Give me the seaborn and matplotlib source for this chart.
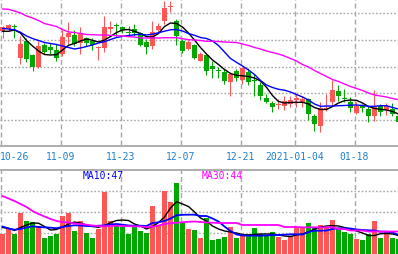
import numpy as np
import pandas as pd
import matplotlib
matplotlib.use("Agg")
import matplotlib.pyplot as plt
import seaborn as sns

# ---------------- data ----------------
dates = ["10-26", "11-09", "11-23", "12-07", "12-21", "2021-01-04", "01-18"]
date_idx = [0, 10, 20, 30, 40, 49, 59]

open_ = [16.77, 17.00, 17.30, 14.07, 15.83, 14.43, 13.17, 15.43, 15.23, 14.93, 14.50, 16.23, 16.40, 15.60, 16.07, 15.83, 15.13,
         15.10, 17.00, 17.37, 17.23, 16.70, 17.00, 16.57, 15.67, 15.33, 16.90, 17.83, 19.23, 17.77, 15.83, 15.00, 15.43, 13.83,
         14.43, 13.33, 12.85, 12.73, 11.73, 12.83, 11.90, 12.73, 11.87, 11.40, 10.10, 9.60, 9.37, 9.33, 9.50, 9.90,
         9.70, 10.00, 8.33, 7.33, 8.97, 9.73, 10.83, 10.03, 9.67, 8.60, 9.33, 9.00, 8.33, 9.33, 8.93, 9.00, 8.27]
close = [17.17, 17.43, 17.20, 15.50, 14.00, 13.23, 15.33, 14.73, 14.90, 14.10, 16.23, 16.57, 15.50, 16.57, 15.60, 15.43, 15.20,
         17.23, 17.23, 17.30, 16.90, 16.63, 16.57, 15.43, 15.23, 16.73, 17.33, 19.10, 19.30, 16.27, 14.83, 15.67, 14.10, 14.50,
         12.83, 13.00, 12.80, 11.83, 12.50, 12.10, 13.07, 11.73, 11.80, 10.33, 9.73, 9.23, 9.43, 9.83, 9.90, 10.13,
         10.00, 8.50, 7.50, 9.07, 9.03, 10.93, 10.33, 9.97, 9.07, 9.33, 9.07, 8.27, 9.33, 8.73, 9.27, 8.50, 7.73]
high = [17.33, 17.50, 17.47, 16.27, 16.07, 14.50, 15.77, 15.57, 15.57, 15.50, 16.93, 17.67, 16.93, 17.23, 16.23, 16.07, 15.33,
        18.33, 17.77, 17.60, 17.33, 17.27, 17.50, 16.73, 16.00, 17.77, 17.60, 19.83, 19.83, 18.00, 16.00, 15.93, 15.50, 14.70,
        14.50, 13.83, 13.17, 13.00, 12.67, 13.00, 13.17, 13.07, 12.50, 11.67, 10.50, 9.83, 10.00, 10.27, 10.33, 10.50,
        10.30, 10.10, 8.50, 9.67, 10.50, 11.93, 11.40, 11.00, 10.17, 9.67, 9.50, 9.27, 10.93, 9.50, 9.60, 9.60, 8.50]
low = [16.10, 16.80, 16.10, 13.50, 13.67, 12.83, 13.07, 14.50, 14.50, 13.77, 14.33, 15.50, 15.33, 14.50, 15.33, 14.93, 13.93,
       14.67, 16.57, 16.33, 16.57, 16.27, 16.33, 15.33, 14.50, 15.00, 16.57, 17.50, 18.73, 15.43, 14.60, 14.93, 14.00, 13.80,
       12.40, 12.10, 12.10, 11.50, 10.33, 11.83, 11.50, 11.40, 10.33, 9.93, 9.57, 8.67, 9.00, 8.90, 9.17, 9.23,
       9.20, 7.93, 6.83, 6.73, 8.83, 9.27, 9.83, 9.67, 8.73, 8.50, 8.67, 7.73, 7.83, 8.33, 8.40, 8.27, 7.60]

ma5 = [16.77, 16.77, 16.90, 16.60, 15.85, 15.30, 14.80, 14.45, 14.40, 14.43, 14.90, 15.37, 15.55, 15.80, 16.00, 15.87, 15.70,
       15.90, 16.25, 16.65, 16.90, 16.95, 16.77, 16.55, 16.23, 16.20, 16.55, 17.25, 17.60, 17.55, 17.20, 16.60, 15.90, 15.15,
       14.50, 13.90, 13.45, 12.95, 12.55, 12.37, 12.32, 12.25, 12.10, 11.80, 11.17, 10.35, 9.75, 9.60, 9.65, 9.67,
       9.67, 9.50, 9.15, 8.95, 8.95, 9.25, 9.60, 9.83, 9.90, 9.87, 9.60, 9.25, 9.05, 8.97, 8.90, 8.75, 8.50]
ma10 = [17.05, 17.00, 16.93, 16.67, 16.30, 16.05, 15.85, 15.65, 15.55, 15.45, 15.30, 15.15, 15.00, 15.10, 15.25, 15.40, 15.60,
        15.73, 15.95, 16.15, 16.27, 16.35, 16.42, 16.48, 16.40, 16.48, 16.63, 16.78, 16.92, 16.95, 16.80, 16.55, 16.37, 16.15,
        16.05, 15.80, 15.35, 14.70, 14.05, 13.67, 13.30, 12.90, 12.45, 11.85, 11.40, 11.15, 10.97, 10.88, 10.70, 10.45,
        10.20, 9.90, 9.50, 9.27, 9.30, 9.30, 9.33, 9.35, 9.38, 9.40, 9.35, 9.27, 9.27, 9.33, 9.33, 9.15, 9.00]
ma30 = [19.00, 18.97, 18.80, 18.60, 18.30, 18.10, 17.85, 17.55, 17.40, 17.25, 16.95, 16.70, 16.65, 16.55, 16.45, 16.43, 16.40,
        16.40, 16.37, 16.33, 16.30, 16.23, 16.20, 16.10, 16.10, 16.10, 16.10, 16.13, 16.13, 16.13, 16.03, 15.93, 15.90, 15.85,
        15.77, 15.77, 15.75, 15.70, 15.67, 15.65, 15.50, 15.35, 15.15, 15.00, 14.80, 14.65, 14.50, 14.30, 14.05, 13.80,
        13.45, 13.20, 12.85, 12.55, 12.25, 11.95, 11.75, 11.50, 11.25, 11.05, 10.85, 10.60, 10.40, 10.30, 10.20, 10.05, 9.93]

volume = [20, 25, 20, 41, 33, 32, 28, 16, 18, 20, 38, 41, 23, 33, 21, 16, 25,
          62, 33, 28, 27, 20, 27, 23, 21, 48, 29, 63, 52, 71, 31, 25, 24, 16,
          36, 14, 15, 17, 27, 16, 19, 20, 26, 20, 18, 22, 17, 14, 18, 27,
          27, 31, 27, 29, 27, 34, 25, 22, 20, 15, 14, 20, 33, 16, 22, 16, 15]
vma5 = [26.5, 25.7, 23.5, 26.5, 29, 31, 30.8, 27.5, 24, 24.5, 27, 30, 32, 31, 29, 27.5, 26.7,
        28.5, 31.3, 33.5, 34, 33.5, 30, 28, 25, 27.5, 31.5, 37, 46, 52.3, 50, 47.5, 42, 36,
        33, 28, 25, 23, 22, 21, 19.5, 19, 19.5, 20, 20, 20, 19, 18, 17.5, 19,
        20, 22, 25, 27, 28, 28.3, 28, 26.5, 25, 23, 21, 18.5, 18.5, 20.3, 20.5, 20, 18.5]
vma10 = [27.5, 25.5, 24.3, 25, 26.5, 27.7, 27, 26.7, 26.3, 25.8, 27, 28, 28.7, 28.5, 28, 27.8, 28.3,
         28.5, 29.5, 30, 29.3, 28.5, 28.3, 28.3, 28, 31, 31.7, 33, 35.5, 38.7, 39.2, 39.3, 39.3, 38,
         38, 35.5, 32.5, 27.5, 23, 19.5, 18.5, 18.3, 18.3, 18.3, 18.5, 19, 19, 19.3, 19.7, 19.7,
         19.5, 22, 23.3, 23.3, 23.5, 25, 25.7, 25.7, 25.5, 24.5, 24, 23.7, 23.5, 22.3, 22.3, 21.5, 19]
vma30 = [58, 55.5, 53, 50, 47, 43, 40, 37.5, 35, 33, 32, 31.5, 30.5, 30, 29.3, 28.5, 27.8,
         27.8, 28, 28.3, 28, 27.8, 27.7, 27.5, 26.8, 27.3, 28.5, 30, 30.8, 31.2, 31.8, 32.2, 32.5, 32,
         31.5, 31.3, 31, 31, 31, 31, 29, 29, 29, 29, 29, 29, 29, 27, 27, 27,
         26.7, 26.7, 26.7, 26.7, 26.7, 26.7, 25, 25, 23.5, 23.5, 23.5, 22.5, 22.5, 22.5, 22.5, 22.5, 22.5]

vol_ma_labels = [("MA10:47", "#0000ff"), ("MA30:44", "#ff00ff")]

# ---------------- style ----------------
sns.set_theme(style="white")
plt.rcParams['font.family'] = ['DejaVu Sans Mono', 'DejaVu Sans']

RED = "#ff5555"
GREEN = "#00a800"
GRID = "#a8a8a8"
DATE_C = "#1f80d0"

W, H = 398, 255
fig = plt.figure(figsize=(W / 100, H / 100), dpi=100)
fig.patch.set_facecolor("white")

price_bottom_px = 146
vol_top_px = 171
ax1 = fig.add_axes([0, 1 - price_bottom_px / H, 1, price_bottom_px / H])
ax2 = fig.add_axes([0, 0, 1, (H - vol_top_px) / H])

df = pd.DataFrame({"i": np.arange(len(open_)), "open": open_, "close": close,
                   "high": high, "low": low, "ma5": ma5, "ma10": ma10, "ma30": ma30,
                   "vol": volume, "vma5": vma5, "vma10": vma10, "vma30": vma30})
df["up"] = df["close"] >= df["open"]
df["col"] = np.where(df["up"], RED, GREEN)

xmin, xmax = -2.5 / 6, (W - 2.5) / 6
bw = 5 / 6

for ax in (ax1, ax2):
    ax.set_facecolor("white")
    ax.set_xlim(xmin, xmax)
    for s in ax.spines.values():
        s.set_visible(False)
    ax.set_xticks([])
    ax.set_yticks([])
    for di in date_idx:
        ax.axvline(di - 0.33, color=GRID, lw=1.0, dashes=(3.6, 2.2), zorder=0)

ax1.set_ylim(5.4, 20)
ax2.set_ylim(0, H - vol_top_px)

for g in [18.6, 15.925, 13.25, 10.575, 7.9]:
    ax1.axhline(g, color=GRID, lw=1.0, dashes=(1.2, 1.4), zorder=0)
for g in [21, 42, 63]:
    ax2.axhline(g, color=GRID, lw=1.0, dashes=(1.2, 1.4), zorder=0)

# candles
ax1.vlines(df["i"], df["low"], df["high"], colors=df["col"], lw=0.75, zorder=2)
body_lo = np.minimum(df["open"], df["close"])
body_h = np.maximum(np.abs(df["close"] - df["open"]), 0.1)
ax1.bar(df["i"], body_h, bottom=body_lo, width=bw, color=df["col"], lw=0, zorder=3)

sns.lineplot(data=df, x="i", y="ma5", ax=ax1, color="black", lw=1.0, zorder=4)
sns.lineplot(data=df, x="i", y="ma10", ax=ax1, color="#0000ff", lw=1.0, zorder=4)
sns.lineplot(data=df, x="i", y="ma30", ax=ax1, color="#ff00ff", lw=1.0, zorder=4)

# volume
ax2.bar(df["i"], df["vol"], width=bw, color=df["col"], lw=0, zorder=2)
sns.lineplot(data=df, x="i", y="vma5", ax=ax2, color="black", lw=1.0, zorder=4)
sns.lineplot(data=df, x="i", y="vma10", ax=ax2, color="#0000ff", lw=1.3, zorder=4)
sns.lineplot(data=df, x="i", y="vma30", ax=ax2, color="#ff00ff", lw=1.3, zorder=4)

for ax in (ax1, ax2):
    ax.set_xlabel("")
    ax.set_ylabel("")
    ax.set_xlim(xmin, xmax)

# separators
for ypx in (147, 171):
    fig.add_artist(plt.Line2D([0, 1], [1 - ypx / H, 1 - ypx / H], color="#a0a0a0", lw=1.2,
                              transform=fig.transFigure))

# date labels
for lab, di in zip(dates, date_idx):
    xpx = 6 * di + 0.5
    if di == 0:
        fig.text(0.0, 1 - 156.5 / H, lab, ha="left", va="center", color=DATE_C, fontsize=7)
    else:
        fig.text(xpx / W, 1 - 156.5 / H, lab, ha="center", va="center", color=DATE_C, fontsize=7)

# volume MA labels
fig.text(83 / W, 1 - 176.5 / H, vol_ma_labels[0][0], ha="left", va="center",
         color=vol_ma_labels[0][1], fontsize=7)
fig.text(202 / W, 1 - 176.5 / H, vol_ma_labels[1][0], ha="left", va="center",
         color=vol_ma_labels[1][1], fontsize=7)

fig.savefig("out.png", dpi=100, facecolor="white")
